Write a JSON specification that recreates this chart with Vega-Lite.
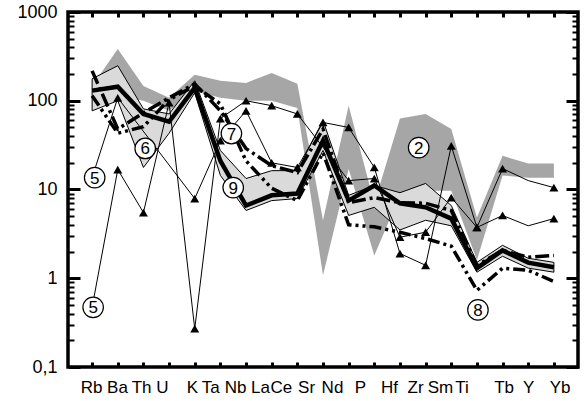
{
  "$schema": "https://vega.github.io/schema/vega-lite/v6.json",
  "width": 510,
  "height": 355,
  "autosize": "none",
  "padding": {"left": 68, "top": 12, "right": 6, "bottom": 34},
  "background": "white",
  "config": {
    "view": {"stroke": "black", "strokeWidth": 3.5},
    "axis": {"grid": false, "domain": false, "labelFont": "Liberation Sans", "labelColor": "black", "tickColor": "black", "title": null}
  },
  "datasets": {
    "band2": [
      {"i": 0, "lo": 100, "hi": 147}, {"i": 1, "lo": 113, "hi": 384}, {"i": 2, "lo": 100, "hi": 147},
      {"i": 3, "lo": 77, "hi": 108}, {"i": 4, "lo": 129, "hi": 196}, {"i": 5, "lo": 108, "hi": 168},
      {"i": 6, "lo": 100, "hi": 159}, {"i": 7, "lo": 100, "hi": 206}, {"i": 8, "lo": 83, "hi": 155},
      {"i": 9, "lo": 1.08, "hi": 4.5}, {"i": 10, "lo": 17, "hi": 88}, {"i": 11, "lo": 1.8, "hi": 7.0},
      {"i": 12, "lo": 8.6, "hi": 63}, {"i": 13, "lo": 9.7, "hi": 71}, {"i": 14, "lo": 9.7, "hi": 48},
      {"i": 15, "lo": 1.6, "hi": 4.85}, {"i": 16, "lo": 14.4, "hi": 24}, {"i": 17, "lo": 13.6, "hi": 19.6},
      {"i": 18, "lo": 13.6, "hi": 19.6}
    ],
    "band6": [
      {"i": 0, "lo": 77, "hi": 177}, {"i": 1, "lo": 100, "hi": 248}, {"i": 2, "lo": 17.7, "hi": 81},
      {"i": 3, "lo": 43, "hi": 71}, {"i": 4, "lo": 123, "hi": 168}, {"i": 5, "lo": 14.4, "hi": 27.5},
      {"i": 6, "lo": 5.8, "hi": 13.3}, {"i": 7, "lo": 7.5, "hi": 16.3}, {"i": 8, "lo": 7.9, "hi": 16.3},
      {"i": 9, "lo": 27.5, "hi": 60}, {"i": 10, "lo": 5.1, "hi": 8.6}, {"i": 11, "lo": 6.3, "hi": 11.1},
      {"i": 12, "lo": 3.5, "hi": 9.2}, {"i": 13, "lo": 4.5, "hi": 11.7}, {"i": 14, "lo": 3.9, "hi": 6.6},
      {"i": 15, "lo": 1.17, "hi": 1.51}, {"i": 16, "lo": 1.77, "hi": 2.35}, {"i": 17, "lo": 1.3, "hi": 1.68},
      {"i": 18, "lo": 1.17, "hi": 1.51}
    ],
    "lines": [
      {"s": "m", "i": 0, "v": 130}, {"s": "m", "i": 1, "v": 144}, {"s": "m", "i": 2, "v": 71}, {"s": "m", "i": 3, "v": 58},
      {"s": "m", "i": 4, "v": 140}, {"s": "m", "i": 5, "v": 21}, {"s": "m", "i": 6, "v": 6.6}, {"s": "m", "i": 7, "v": 8.6},
      {"s": "m", "i": 8, "v": 9.0}, {"s": "m", "i": 9, "v": 35.6}, {"s": "m", "i": 10, "v": 7.5}, {"s": "m", "i": 11, "v": 11.1},
      {"s": "m", "i": 12, "v": 7.0}, {"s": "m", "i": 13, "v": 6.3}, {"s": "m", "i": 14, "v": 4.7}, {"s": "m", "i": 15, "v": 1.3},
      {"s": "m", "i": 16, "v": 2.06}, {"s": "m", "i": 17, "v": 1.5}, {"s": "m", "i": 18, "v": 1.33},
      {"s": "7", "i": 0, "v": 217}, {"s": "7", "i": 1, "v": 48}, {"s": "7", "i": 2, "v": 73}, {"s": "7", "i": 3, "v": 108},
      {"s": "7", "i": 4, "v": 155}, {"s": "7", "i": 5, "v": 77}, {"s": "7", "i": 6, "v": 28.9}, {"s": "7", "i": 7, "v": 18.6},
      {"s": "7", "i": 8, "v": 15.5}, {"s": "7", "i": 9, "v": 48}, {"s": "7", "i": 10, "v": 7.1}, {"s": "7", "i": 11, "v": 8.1},
      {"s": "7", "i": 12, "v": 7.1}, {"s": "7", "i": 13, "v": 7.0}, {"s": "7", "i": 14, "v": 5.8}, {"s": "7", "i": 15, "v": 1.4},
      {"s": "7", "i": 16, "v": 2.06}, {"s": "7", "i": 17, "v": 1.72}, {"s": "7", "i": 18, "v": 1.81},
      {"s": "8", "i": 0, "v": 114}, {"s": "8", "i": 1, "v": 43}, {"s": "8", "i": 2, "v": 51}, {"s": "8", "i": 3, "v": 103},
      {"s": "8", "i": 4, "v": 147}, {"s": "8", "i": 5, "v": 92}, {"s": "8", "i": 6, "v": 21}, {"s": "8", "i": 7, "v": 10.3},
      {"s": "8", "i": 8, "v": 7.5}, {"s": "8", "i": 9, "v": 26}, {"s": "8", "i": 10, "v": 4.0}, {"s": "8", "i": 11, "v": 3.8},
      {"s": "8", "i": 12, "v": 3.3}, {"s": "8", "i": 13, "v": 2.8}, {"s": "8", "i": 14, "v": 2.3}, {"s": "8", "i": 15, "v": 0.73},
      {"s": "8", "i": 16, "v": 1.3}, {"s": "8", "i": 17, "v": 1.23}, {"s": "8", "i": 18, "v": 0.92}
    ],
    "samples": [
      {"s": "A", "i": 0, "v": 13.6}, {"s": "A", "i": 1, "v": 108}, {"s": "A", "i": 4, "v": 7.9}, {"s": "A", "i": 5, "v": 35.5},
      {"s": "A", "i": 6, "v": 77}, {"s": "A", "i": 7, "v": 20}, {"s": "A", "i": 8, "v": 17.7}, {"s": "A", "i": 9, "v": 57},
      {"s": "A", "i": 10, "v": 50}, {"s": "A", "i": 11, "v": 17.7}, {"s": "A", "i": 12, "v": 1.9}, {"s": "A", "i": 13, "v": 1.4},
      {"s": "A", "i": 14, "v": 31}, {"s": "A", "i": 15, "v": 3.74}, {"s": "A", "i": 16, "v": 17.2}, {"s": "A", "i": 17, "v": 12.6},
      {"s": "A", "i": 18, "v": 10.5},
      {"s": "B", "i": 0, "v": 0.47}, {"s": "B", "i": 1, "v": 16.8}, {"s": "B", "i": 2, "v": 5.5}, {"s": "B", "i": 3, "v": 95},
      {"s": "B", "i": 4, "v": 0.27}, {"s": "B", "i": 5, "v": 63}, {"s": "B", "i": 6, "v": 100}, {"s": "B", "i": 7, "v": 88},
      {"s": "B", "i": 8, "v": 71}, {"s": "B", "i": 10, "v": 12.6}, {"s": "B", "i": 11, "v": 13.3}, {"s": "B", "i": 12, "v": 2.9},
      {"s": "B", "i": 13, "v": 3.3}, {"s": "B", "i": 14, "v": 8.1}, {"s": "B", "i": 15, "v": 3.74}, {"s": "B", "i": 16, "v": 5.1},
      {"s": "B", "i": 17, "v": 3.9}, {"s": "B", "i": 18, "v": 4.7}
    ],
    "labels": [
      {"t": "5", "i": 0.1, "v": 13.6}, {"t": "5", "i": 0.04, "v": 0.47}, {"t": "6", "i": 2.07, "v": 29},
      {"t": "7", "i": 5.43, "v": 42.7}, {"t": "9", "i": 5.5, "v": 10.5}, {"t": "8", "i": 15.04, "v": 0.44},
      {"t": "2", "i": 12.73, "v": 29.6}
    ]
  },
  "resolve": {"axis": {"x": "independent", "y": "independent"}},
  "layer": [
    {
      "data": {"name": "band2"},
      "mark": {"type": "area", "color": "#a6a6a6"},
      "encoding": {
        "x": {"field": "i", "type": "quantitative", "scale": {"domain": [-0.94, 18.94], "nice": false, "zero": false},
              "axis": {"orient": "bottom", "offset": -5, "tickSize": 5, "tickWidth": 3, "values": [0,1,2,3,4,5,6,7,8,9,10,11,12,13,14,15,16,17,18], "labels": false, "zindex": 1}},
        "y": {"field": "lo", "type": "quantitative", "scale": {"type": "log", "domain": [0.1, 1000], "nice": false},
              "axis": {"orient": "left", "offset": -12, "tickSize": 12, "tickWidth": 3, "values": [0.1, 1, 10, 100, 1000], "labelExpr": "datum.value < 0.5 ? '0,1' : format(datum.value, 'd')", "labelFontSize": 18, "labelPadding": 11, "zindex": 1}},
        "y2": {"field": "hi"}
      }
    },
    {
      "data": {"name": "band6"},
      "mark": {"type": "area", "fill": "#dadada", "stroke": "black", "strokeWidth": 1},
      "encoding": {
        "x": {"field": "i", "type": "quantitative", "scale": {"domain": [-0.94, 18.94], "nice": false, "zero": false},
              "axis": {"orient": "top", "offset": -5, "tickSize": 5, "tickWidth": 3, "values": [0,1,2,3,4,5,6,7,8,9,10,11,12,13,14,15,16,17,18], "labels": false, "zindex": 1}},
        "y": {"field": "lo", "type": "quantitative", "scale": {"type": "log", "domain": [0.1, 1000], "nice": false},
              "axis": {"orient": "left", "offset": -6, "tickSize": 6, "tickWidth": 2, "values": [0.2,0.3,0.4,0.5,0.6,0.7,0.8,0.9,2,3,4,5,6,7,8,9,20,30,40,50,60,70,80,90,200,300,400,500,600,700,800,900], "labels": false, "zindex": 1}},
        "y2": {"field": "hi"}
      }
    },
    {
      "data": {"name": "samples"},
      "mark": {"type": "line", "color": "black", "strokeWidth": 1},
      "encoding": {
        "x": {"field": "i", "type": "quantitative", "scale": {"domain": [-0.94, 18.94], "nice": false, "zero": false},
              "axis": {"orient": "bottom", "ticks": false, "values": [-0.04, 0.97, 1.91, 2.72, 3.89, 4.6, 5.57, 6.54, 7.36, 8.34, 9.35, 10.44, 11.57, 12.59, 13.56, 14.4, 16.04, 17.0, 18.22], "labelExpr": "['Rb','Ba','Th','U','K','Ta','Nb','La','Ce','Sr','Nd','P','Hf','Zr','Sm','Ti','Tb','Y','Yb'][indexof([-0.04, 0.97, 1.91, 2.72, 3.89, 4.6, 5.57, 6.54, 7.36, 8.34, 9.35, 10.44, 11.57, 12.59, 13.56, 14.4, 16.04, 17.0, 18.22], datum.value)]", "labelFontSize": 17, "labelPadding": 12}},
        "y": {"field": "v", "type": "quantitative", "scale": {"type": "log", "domain": [0.1, 1000], "nice": false},
              "axis": {"orient": "right", "offset": -12, "tickSize": 12, "tickWidth": 3, "values": [0.1, 1, 10, 100, 1000], "labels": false, "zindex": 1}},
        "detail": {"field": "s"}
      }
    },
    {
      "data": {"name": "lines"},
      "transform": [{"filter": "datum.s == '7'"}],
      "mark": {"type": "line", "color": "black", "strokeWidth": 3.5, "strokeDash": [14, 4, 3, 4]},
      "encoding": {
        "x": {"field": "i", "type": "quantitative", "scale": {"domain": [-0.94, 18.94], "nice": false, "zero": false}, "axis": null},
        "y": {"field": "v", "type": "quantitative", "scale": {"type": "log", "domain": [0.1, 1000], "nice": false},
              "axis": {"orient": "right", "offset": -6, "tickSize": 6, "tickWidth": 2, "values": [0.2,0.3,0.4,0.5,0.6,0.7,0.8,0.9,2,3,4,5,6,7,8,9,20,30,40,50,60,70,80,90,200,300,400,500,600,700,800,900], "labels": false, "zindex": 1}}
      }
    },
    {
      "data": {"name": "lines"},
      "transform": [{"filter": "datum.s == '8'"}],
      "mark": {"type": "line", "color": "black", "strokeWidth": 3.5, "strokeDash": [12, 4, 3, 4, 3, 4]},
      "encoding": {
        "x": {"field": "i", "type": "quantitative", "scale": {"domain": [-0.94, 18.94], "nice": false, "zero": false}, "axis": null},
        "y": {"field": "v", "type": "quantitative", "scale": {"type": "log", "domain": [0.1, 1000], "nice": false}, "axis": null}
      }
    },
    {
      "data": {"name": "lines"},
      "transform": [{"filter": "datum.s == 'm'"}],
      "mark": {"type": "line", "color": "black", "strokeWidth": 4.5, "strokeJoin": "miter"},
      "encoding": {
        "x": {"field": "i", "type": "quantitative", "scale": {"domain": [-0.94, 18.94], "nice": false, "zero": false}, "axis": null},
        "y": {"field": "v", "type": "quantitative", "scale": {"type": "log", "domain": [0.1, 1000], "nice": false}, "axis": null}
      }
    },
    {
      "data": {"name": "samples"},
      "transform": [{"filter": "datum.i != 17"}],
      "mark": {"type": "point", "shape": "triangle-up", "filled": true, "color": "black", "size": 80, "opacity": 1},
      "encoding": {
        "x": {"field": "i", "type": "quantitative", "scale": {"domain": [-0.94, 18.94], "nice": false, "zero": false}, "axis": null},
        "y": {"field": "v", "type": "quantitative", "scale": {"type": "log", "domain": [0.1, 1000], "nice": false}, "axis": null}
      }
    },
    {
      "data": {"name": "labels"},
      "mark": {"type": "point", "shape": "circle", "filled": true, "fill": "white", "stroke": "black", "strokeWidth": 1.2, "size": 420, "opacity": 1},
      "encoding": {
        "x": {"field": "i", "type": "quantitative", "scale": {"domain": [-0.94, 18.94], "nice": false, "zero": false}, "axis": null},
        "y": {"field": "v", "type": "quantitative", "scale": {"type": "log", "domain": [0.1, 1000], "nice": false}, "axis": null}
      }
    },
    {
      "data": {"name": "labels"},
      "mark": {"type": "text", "font": "Liberation Sans", "fontSize": 17, "color": "black", "align": "center", "baseline": "middle", "dy": 1},
      "encoding": {
        "x": {"field": "i", "type": "quantitative", "scale": {"domain": [-0.94, 18.94], "nice": false, "zero": false}, "axis": null},
        "y": {"field": "v", "type": "quantitative", "scale": {"type": "log", "domain": [0.1, 1000], "nice": false}, "axis": null},
        "text": {"field": "t"}
      }
    }
  ]
}
